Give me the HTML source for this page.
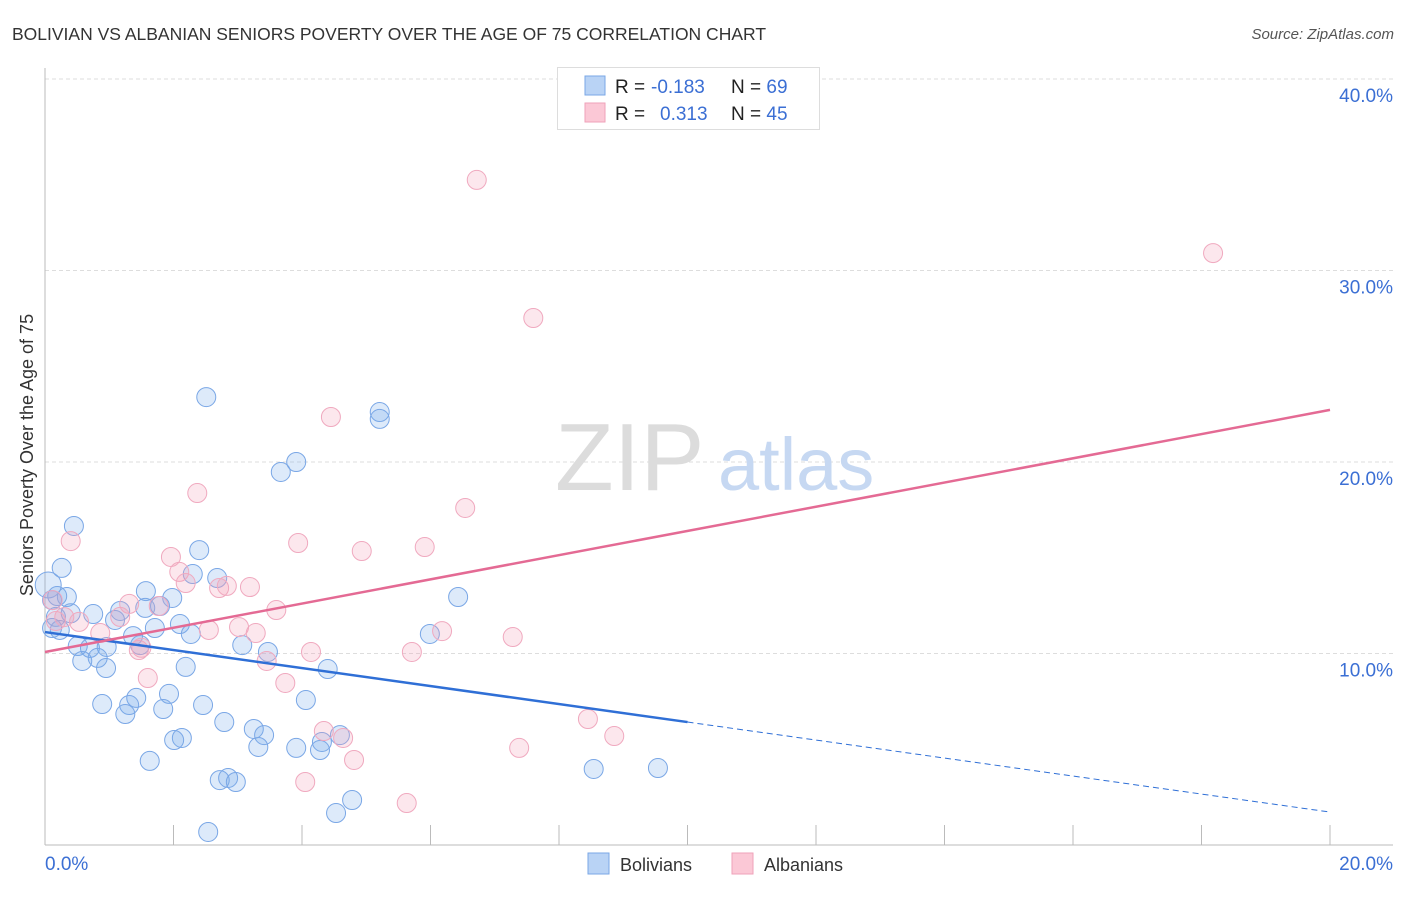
<!DOCTYPE html>
<html><head><meta charset="utf-8"><style>
body{margin:0;background:#fff;font-family:"Liberation Sans",sans-serif;}
svg text{font-family:"Liberation Sans",sans-serif;}
</style></head><body>
<svg id="c" width="1406" height="892" xmlns="http://www.w3.org/2000/svg">
<text x="12" y="40" font-size="17.5" fill="#333">BOLIVIAN VS ALBANIAN SENIORS POVERTY OVER THE AGE OF 75 CORRELATION CHART</text>
<text x="1394" y="39" font-size="15" fill="#555" font-style="italic" text-anchor="end">Source: ZipAtlas.com</text>
<g id="grid"></g>
<g><text x="555" y="490" font-size="96" fill="#dcdcdc" font-family="Liberation Serif,serif">ZIP</text><text x="718" y="490" font-size="74" fill="#c6d8f2">atlas</text></g>
<line x1="45" y1="68" x2="45" y2="845" stroke="#bbb"/>
<line x1="45" y1="845" x2="1393" y2="845" stroke="#bbb"/>
<g id="xt"></g>
<g id="yl"></g>
<text x="45" y="870" font-size="19" fill="#3b6fd4">0.0%</text>
<text x="1393" y="870" font-size="19" fill="#3b6fd4" text-anchor="end">20.0%</text>
<text transform="translate(33,455) rotate(-90)" font-size="18" fill="#333" text-anchor="middle">Seniors Poverty Over the Age of 75</text>
<g id="pts"></g>
<g id="tr"></g>
<g>
<rect x="557.5" y="67.5" width="262" height="62" fill="#fff" stroke="#ddd"/>
<rect x="585" y="76" width="20" height="19" fill="#b9d3f5" stroke="#7aa7e6"/>
<rect x="585" y="103" width="20" height="19" fill="#fbc8d6" stroke="#efa2b9"/>
<text x="615" y="93" font-size="19" fill="#222">R = <tspan x="651" fill="#3b6fd4">-0.183</tspan><tspan x="731">N = </tspan><tspan fill="#3b6fd4">69</tspan></text>
<text x="615" y="120" font-size="19" fill="#222">R = <tspan x="660" fill="#3b6fd4">0.313</tspan><tspan x="731">N = </tspan><tspan fill="#3b6fd4">45</tspan></text>
</g>
<g>
<rect x="588" y="853" width="21" height="21" fill="#b9d3f5" stroke="#7aa7e6"/>
<text x="620" y="871" font-size="18" fill="#333">Bolivians</text>
<rect x="732" y="853" width="21" height="21" fill="#fbc8d6" stroke="#efa2b9"/>
<text x="764" y="871" font-size="18" fill="#333">Albanians</text>
</g>
</svg>
<script>
const yTicks=[10,20,30,40];
const yTickLabels=["10.0%","20.0%","30.0%","40.0%"];
const xTicks=[0,2,4,6,8,10,12,14,16,18,20];
const bolX=[2.51,5.21,5.21,3.91,3.67,0.45,2.40,0.26,0.05,1.57,2.30,2.68,1.98,0.34,6.43,0.75,1.17,1.56,1.79,0.17,0.23,2.10,1.71,1.09,1.37,2.27,5.99,0.51,0.70,0.96,1.48,3.07,3.47,0.82,0.58,0.95,2.19,4.40,0.89,1.93,1.42,1.31,1.84,1.25,4.06,2.46,2.79,3.25,3.41,4.59,2.13,2.01,3.32,3.91,4.31,4.28,1.63,8.54,9.54,2.72,2.85,2.97,4.78,4.53,2.54,0.11,0.11,0.19,0.40];
const bolY=[23.39,22.61,22.25,20.00,19.48,16.66,15.40,14.47,13.58,13.26,14.15,13.94,12.90,12.95,12.95,12.06,12.22,12.38,12.48,11.91,11.23,11.54,11.33,11.75,10.91,11.02,11.02,10.39,10.29,10.34,10.44,10.44,10.08,9.77,9.61,9.24,9.30,9.19,7.36,7.89,7.68,7.31,7.10,6.84,7.57,7.31,6.42,6.06,5.74,5.74,5.59,5.48,5.12,5.07,5.38,4.96,4.39,3.97,4.02,3.39,3.50,3.29,2.35,1.67,0.68,12.79,11.33,13.0,12.1];
const albX=[6.72,18.18,7.60,4.45,2.37,6.54,0.40,3.94,5.91,4.93,1.96,2.09,2.19,2.71,2.83,3.19,0.12,1.31,1.77,3.60,1.17,0.17,0.53,2.55,3.02,3.28,0.86,6.18,7.28,1.46,4.14,5.71,3.45,1.60,3.74,8.45,4.34,4.64,8.86,7.38,4.81,4.05,5.63,0.30,1.50];
const albY=[34.73,30.91,27.52,22.35,18.38,17.60,15.87,15.77,15.56,15.35,15.04,14.26,13.68,13.42,13.53,13.47,12.79,12.59,12.48,12.27,11.91,11.70,11.65,11.23,11.38,11.07,11.07,11.17,10.86,10.18,10.08,10.08,9.61,8.72,8.46,6.58,5.95,5.59,5.69,5.07,4.44,3.29,2.19,11.9,10.3];
const bolTrend=[11.12,-0.47];
const albTrend=[10.08,0.632];
const bolSolidEnd=10;
const X=v=>45+v*64.25, Y=v=>845-v*19.15;
const NS="http://www.w3.org/2000/svg";
function mk(tag,parent,attrs){const e=document.createElementNS(NS,tag);for(const k in attrs)e.setAttribute(k,attrs[k]);document.getElementById(parent).appendChild(e);return e;}
yTicks.forEach((t,i)=>{
 const l=mk('line','grid',{x1:45,x2:1393,y1:Y(t),y2:Y(t),stroke:'#ddd','stroke-dasharray':'4,3'});
 
 
 const tx=mk('text','yl',{x:1393,y:Y(t)+23,'font-size':19,fill:'#3b6fd4','text-anchor':'end'});
 tx.textContent=yTickLabels[i];
 
 
});
xTicks.slice(1).forEach(t=>{
 const l=mk('line','xt',{x1:X(t),x2:X(t),y1:825,y2:845,stroke:'#bbb'});
 
 
});
bolX.forEach((x,i)=>{
 const c=mk('circle','pts',{cx:X(x),cy:Y(bolY[i]),r:i==8?13:9.5,fill:'rgba(120,170,235,0.25)',stroke:'#7aa7e6','stroke-width':1});
 
 
});
albX.forEach((x,i)=>{
 const c=mk('circle','pts',{cx:X(x),cy:Y(albY[i]),r:9.5,fill:'rgba(245,160,185,0.25)',stroke:'#f0a9bf','stroke-width':1});
 
 
});
const bf=x=>bolTrend[0]+bolTrend[1]*x, af=x=>albTrend[0]+albTrend[1]*x;
let l=mk('line','tr',{x1:X(0),y1:Y(bf(0)),x2:X(bolSolidEnd),y2:Y(bf(bolSolidEnd)),stroke:'#2f6fd6','stroke-width':2.5});


l=mk('line','tr',{x1:X(bolSolidEnd),y1:Y(bf(bolSolidEnd)),x2:X(20),y2:Y(bf(20)),stroke:'#2f6fd6','stroke-width':1,'stroke-dasharray':'6,4'});


l=mk('line','tr',{x1:X(0),y1:Y(af(0)),x2:X(20),y2:Y(af(20)),stroke:'#e46a94','stroke-width':2.5});


</script>
</body></html>
